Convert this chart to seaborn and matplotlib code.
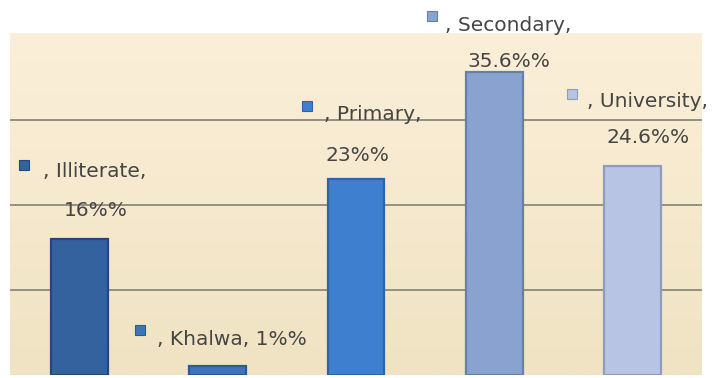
import numpy as np
import matplotlib
matplotlib.use("Agg")
import matplotlib.pyplot as plt
import matplotlib.transforms as mtransforms
import seaborn as sns

# Education level distribution
categories = ["Illiterate", "Khalwa", "Primary", "Secondary", "University"]
values = [16, 1, 23, 35.6, 24.6]
value_labels = ["16%%", "1%%", "23%%", "35.6%%", "24.6%%"]

bar_colors = ["#34629f", "#3f74bb", "#3e7fcf", "#89a2cf", "#b7c4e4"]
edge_colors = ["#24487a", "#2c5a98", "#2d64a8", "#6680aa", "#8f9cbc"]

# Label layout relative to each bar's top centre (pixels): marker, first line, value line
marker_off = [(-55, 74), (-78, 36), (-49, 73), (-62, 56), (-61, 72)]
name_off = [(-36, 67), (-61, 27), (-32, 65), (-49, 47), (-46, 64)]
value_off = [(17, 28), None, (1, 24), (14, 11), (15, 28)]

sns.set_theme(style="white")
plt.rcParams["font.family"] = ["DejaVu Sans"]

W, H = 723, 378
fig = plt.figure(figsize=(W / 100, H / 100), dpi=100, facecolor="white")
ax = fig.add_axes([10 / W, 3 / H, 692 / W, 342 / H])

# Cream gradient plot background
grad = np.linspace(0, 1, 256).reshape(-1, 1)
top_c = np.array(matplotlib.colors.to_rgb("#fcefd9"))
bot_c = np.array(matplotlib.colors.to_rgb("#efe3c3"))
img = top_c[None, None, :] * (1 - grad[:, :, None]) + bot_c[None, None, :] * grad[:, :, None]
ax.imshow(img, extent=[0, 1, 0, 1], transform=ax.transAxes, aspect="auto", zorder=0)

sns.barplot(x=categories, y=values, hue=categories, palette=bar_colors,
            order=categories, hue_order=categories, width=0.41,
            legend=False, ax=ax, zorder=3, saturation=1)
for patch, ec in zip(ax.patches, edge_colors):
    patch.set_edgecolor(ec)
    patch.set_linewidth(1.6)

ax.set_xlim(-0.5, 4.5)
ax.set_ylim(0, 40.2)
ax.set_yticks([10, 20, 30])
ax.yaxis.grid(True, color="#8c8a7c", linewidth=1.3, zorder=1)
ax.set_axisbelow(True)
ax.tick_params(left=False, bottom=False, labelleft=False, labelbottom=False)
ax.set_xlabel("")
ax.set_ylabel("")
for s in ax.spines.values():
    s.set_visible(False)

text_color = "#454545"
fs = 14.5
for i, (cat, val) in enumerate(zip(categories, values)):
    mo = marker_off[i]
    tr = mtransforms.offset_copy(ax.transData, fig=fig, x=mo[0], y=mo[1], units="dots")
    ax.plot([i], [val], marker="s", markersize=7.5, color=bar_colors[i],
            markeredgecolor=edge_colors[i], markeredgewidth=0.8,
            transform=tr, clip_on=False, zorder=5)
    no = name_off[i]
    tr = mtransforms.offset_copy(ax.transData, fig=fig, x=no[0], y=no[1], units="dots")
    first = f", {cat}," if value_off[i] is not None else f", {cat}, {value_labels[i]}"
    ax.text(i, val, first, transform=tr, ha="left", va="center", fontsize=fs,
            color=text_color, clip_on=False, zorder=5)
    if value_off[i] is not None:
        vo = value_off[i]
        tr = mtransforms.offset_copy(ax.transData, fig=fig, x=vo[0], y=vo[1], units="dots")
        ax.text(i, val, value_labels[i], transform=tr, ha="center", va="center",
                fontsize=fs, color=text_color, clip_on=False, zorder=5)

fig.savefig("out.png", dpi=100, facecolor="white")
